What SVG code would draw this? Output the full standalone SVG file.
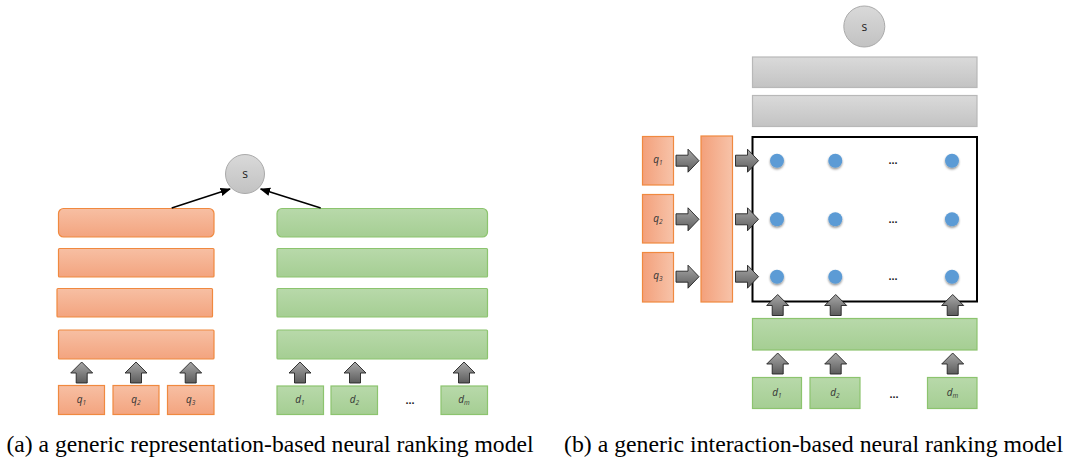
<svg xmlns="http://www.w3.org/2000/svg" width="1068" height="458" viewBox="0 0 1068 458">
<defs>
<linearGradient id="gOrV" x1="0" y1="0" x2="0" y2="1"><stop offset="0" stop-color="#f7bfa3"/><stop offset="1" stop-color="#f3a47f"/></linearGradient>
<linearGradient id="gOrH" x1="0" y1="0" x2="1" y2="0"><stop offset="0" stop-color="#f3a07b"/><stop offset="1" stop-color="#f7c3a9"/></linearGradient>
<linearGradient id="gGr" x1="0" y1="0" x2="0" y2="1"><stop offset="0" stop-color="#b8d9aa"/><stop offset="1" stop-color="#a5ce93"/></linearGradient>
<linearGradient id="gGy" x1="0" y1="0" x2="0" y2="1"><stop offset="0" stop-color="#dadada"/><stop offset="1" stop-color="#c3c3c3"/></linearGradient>
<linearGradient id="gCirc" x1="0" y1="0" x2="0" y2="1"><stop offset="0" stop-color="#d9d9d9"/><stop offset="1" stop-color="#c2c2c2"/></linearGradient>
<linearGradient id="gArr" x1="0" y1="0" x2="0" y2="1"><stop offset="0" stop-color="#a8a8a8"/><stop offset="1" stop-color="#5c5c5c"/></linearGradient>
<filter id="shadow" x="-50%" y="-50%" width="200%" height="220%"><feDropShadow dx="0" dy="1.5" stdDeviation="1.2" flood-color="#000" flood-opacity="0.45"/></filter>
<marker id="ah" viewBox="0 0 10 10" refX="9" refY="5" markerWidth="7" markerHeight="7" orient="auto"><path d="M0,1 L10,5 L0,9 Z" fill="#000"/></marker>
<path id="up" d="M0,0 L11,11 L5.5,11 L5.5,21 L-5.5,21 L-5.5,11 L-11,11 Z"/>
<path id="rt" d="M0,-5.5 L12,-5.5 L12,-11.5 L23,0 L12,11.5 L12,5.5 L0,5.5 Z"/>
</defs>
<style>
.or{fill:url(#gOrV);stroke:#f0893f;stroke-width:1.2}
.orh{fill:url(#gOrH);stroke:#f0893f;stroke-width:1.2}
.gr{fill:url(#gGr);stroke:#8cc46e;stroke-width:1.2}
.gy{fill:url(#gGy);stroke:#b8b8b8;stroke-width:1.2}
.circ{fill:url(#gCirc);stroke:#aaaaaa;stroke-width:1}
.arr{fill:url(#gArr);stroke:#222;stroke-width:0.9}
.dot{fill:#5b9bd5;filter:url(#shadow)}
.lbl{font-family:"Open Sans","Liberation Sans",sans-serif;font-style:italic;font-size:10px;fill:#333;text-anchor:middle}
.sub{font-size:6.5px}
.s{font-family:"Open Sans","Liberation Sans",sans-serif;font-size:12px;fill:#222;text-anchor:middle}
.ell{font-family:"Liberation Sans",sans-serif;font-size:11px;font-weight:bold;fill:#222;text-anchor:middle}
.frame{fill:#fff;stroke:#000;stroke-width:2}
</style>

<!-- Panel (a) -->
<g id="a-score"><circle class="circ" cx="245" cy="174" r="19.5"/><text class="s" x="245" y="178">s</text></g>
<g id="a-q-layer4"><rect class="or" x="58.5" y="208.5" width="155.5" height="28.5" rx="5"/></g>
<g id="a-q-layer3"><rect class="or" x="58.5" y="248.5" width="155.5" height="28.5" rx="1"/></g>
<g id="a-q-layer2"><rect class="or" x="57" y="288.5" width="155.5" height="28.5" rx="1"/></g>
<g id="a-q-layer1"><rect class="or" x="58.5" y="330" width="155.5" height="29" rx="1"/></g>
<g id="a-d-layer4"><rect class="gr" x="277" y="208.5" width="210.5" height="28.5" rx="5"/></g>
<g id="a-d-layer3"><rect class="gr" x="277" y="248.5" width="210.5" height="28.5" rx="1"/></g>
<g id="a-d-layer2"><rect class="gr" x="277" y="288.5" width="210.5" height="28.5" rx="1"/></g>
<g id="a-d-layer1"><rect class="gr" x="277" y="330" width="210.5" height="29" rx="1"/></g>
<g id="a-q1"><rect class="or" x="58.5" y="385.5" width="46" height="29"/><text class="lbl" x="81.5" y="403">q<tspan class="sub" dy="2">1</tspan></text></g>
<g id="a-q2"><rect class="or" x="113" y="385.5" width="46" height="29"/><text class="lbl" x="136" y="403">q<tspan class="sub" dy="2">2</tspan></text></g>
<g id="a-q3"><rect class="or" x="167.5" y="385.5" width="46.5" height="29"/><text class="lbl" x="190.7" y="403">q<tspan class="sub" dy="2">3</tspan></text></g>
<g id="a-d1"><rect class="gr" x="277" y="386" width="46.5" height="28.5"/><text class="lbl" x="300" y="403">d<tspan class="sub" dy="2">1</tspan></text></g>
<g id="a-d2"><rect class="gr" x="331" y="386" width="46.5" height="28.5"/><text class="lbl" x="354.5" y="403">d<tspan class="sub" dy="2">2</tspan></text></g>
<g id="a-dots"><text class="ell" x="410" y="404">...</text></g>
<g id="a-dm"><rect class="gr" x="441" y="386" width="46.5" height="28.5"/><text class="lbl" x="464" y="403">d<tspan class="sub" dy="2">m</tspan></text></g>

<!-- Panel (b) -->
<g id="b-score"><circle class="circ" cx="864.3" cy="26.5" r="20.5"/><text class="s" x="864.3" y="30.5">s</text></g>
<g id="b-layer2"><rect class="gy" x="752.5" y="57" width="224.5" height="30.5"/></g>
<g id="b-layer1"><rect class="gy" x="752.5" y="95.5" width="224.5" height="31"/></g>
<g id="b-q-emb"><rect class="orh" x="701" y="136" width="31.5" height="166"/></g>
<g id="b-q1"><rect class="orh" x="642.5" y="136.5" width="31" height="48.5"/><text class="lbl" x="658" y="163">q<tspan class="sub" dy="2">1</tspan></text></g>
<g id="b-q2"><rect class="orh" x="642.5" y="194.5" width="31" height="48.5"/><text class="lbl" x="658" y="221.5">q<tspan class="sub" dy="2">2</tspan></text></g>
<g id="b-q3"><rect class="orh" x="642.5" y="252.5" width="31" height="49.5"/><text class="lbl" x="658" y="279">q<tspan class="sub" dy="2">3</tspan></text></g>
<g id="b-matrix">
<rect class="frame" x="752.5" y="137" width="224.5" height="164.5"/>
<circle class="dot" cx="777" cy="160.7" r="7"/><circle class="dot" cx="835.3" cy="160.7" r="7"/><text class="ell" x="893" y="164">...</text><circle class="dot" cx="952" cy="160.7" r="7"/>
<circle class="dot" cx="777" cy="219.3" r="7"/><circle class="dot" cx="835.3" cy="219.3" r="7"/><text class="ell" x="893" y="222.5">...</text><circle class="dot" cx="952" cy="219.3" r="7"/>
<circle class="dot" cx="777" cy="276.7" r="7"/><circle class="dot" cx="835.3" cy="276.7" r="7"/><text class="ell" x="893" y="280">...</text><circle class="dot" cx="952" cy="276.7" r="7"/>
</g>
<g id="b-d-emb"><rect class="gr" x="752.5" y="318.5" width="224.5" height="31.5"/></g>
<g id="b-d1"><rect class="gr" x="752.5" y="377.5" width="49" height="31"/><text class="lbl" x="777" y="396">d<tspan class="sub" dy="2">1</tspan></text></g>
<g id="b-d2"><rect class="gr" x="810" y="377.5" width="50" height="31"/><text class="lbl" x="835" y="396">d<tspan class="sub" dy="2">2</tspan></text></g>
<g id="b-dots"><text class="ell" x="894" y="398">...</text></g>
<g id="b-dm"><rect class="gr" x="927.5" y="377.5" width="49.5" height="31"/><text class="lbl" x="952.5" y="396">d<tspan class="sub" dy="2">m</tspan></text></g>

<g id="connectors">
<line x1="171.7" y1="208" x2="230" y2="189" stroke="#000" stroke-width="1.5" marker-end="url(#ah)"/>
<line x1="320.7" y1="208" x2="260.7" y2="189" stroke="#000" stroke-width="1.5" marker-end="url(#ah)"/>
<use href="#up" class="arr" x="81.7" y="362"/>
<use href="#up" class="arr" x="136" y="362"/>
<use href="#up" class="arr" x="190.7" y="362"/>
<use href="#up" class="arr" x="300" y="362"/>
<use href="#up" class="arr" x="355" y="362"/>
<use href="#up" class="arr" x="464" y="362"/>
<use href="#rt" class="arr" x="676" y="160.7"/>
<use href="#rt" class="arr" x="676" y="219.3"/>
<use href="#rt" class="arr" x="676" y="276.7"/>
<use href="#rt" class="arr" x="735.5" y="160.7"/>
<use href="#rt" class="arr" x="735.5" y="219.3"/>
<use href="#rt" class="arr" x="735.5" y="276.7"/>
<use href="#up" class="arr" x="777.7" y="294.5"/>
<use href="#up" class="arr" x="835.7" y="294.5"/>
<use href="#up" class="arr" x="952.7" y="294.5"/>
<use href="#up" class="arr" x="777.7" y="353"/>
<use href="#up" class="arr" x="835.7" y="353"/>
<use href="#up" class="arr" x="952.7" y="353"/>
</g>

<g id="captions" font-family="'Liberation Serif', 'DejaVu Serif', serif" font-size="23.7" fill="#000">
<text x="6.5" y="452" textLength="527" lengthAdjust="spacingAndGlyphs">(a) a generic representation-based neural ranking model</text>
<text x="564" y="452" textLength="499" lengthAdjust="spacingAndGlyphs">(b) a generic interaction-based neural ranking model</text>
</g>
</svg>
